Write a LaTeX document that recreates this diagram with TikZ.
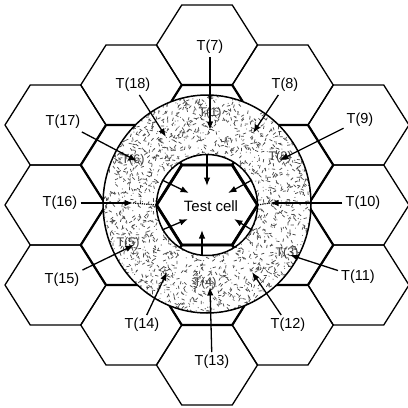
\documentclass[tikz,border=0pt]{standalone}
\usepackage{fontspec}
\setmainfont{Liberation Sans}
\usetikzlibrary{arrows.meta}
\newcommand{\hexcell}[2]{\draw[#1,shift={#2}] (50.5,0) -- (25.25,40) -- (-25.25,40) -- (-50.5,0) -- (-25.25,-40) -- (25.25,-40) -- cycle;}
\tikzset{
  hexthin/.style={line width=1.3pt, line join=round},
  hexthick/.style={line width=2.2pt, line join=round},
  testhex/.style={line width=2.8pt, line join=round},
  lbl/.style={font=\fontsize{14.5}{16}\selectfont, inner sep=3pt},
  innerlbl/.style={font=\fontsize{12.5}{14}\selectfont, inner sep=1pt, text=black!75},
  arr/.style={line width=1.3pt, -{Latex[length=8.5pt,width=6.5pt]}},
  ringline/.style={line width=1.5pt}
}
\begin{document}
\begin{tikzpicture}[x=1pt,y=-1pt]
\useasboundingbox (0,0) rectangle (408,408);
\fill[white] (0,0) rectangle (408,408);
% ring 2 cells
\hexcell{hexthin}{(207,45)}
\hexcell{hexthin}{(282.75,85)}
\hexcell{hexthin}{(358.5,125)}
\hexcell{hexthin}{(358.5,205)}
\hexcell{hexthin}{(358.5,285)}
\hexcell{hexthin}{(282.75,325)}
\hexcell{hexthin}{(207,365)}
\hexcell{hexthin}{(131.25,325)}
\hexcell{hexthin}{(55.5,285)}
\hexcell{hexthin}{(55.5,205)}
\hexcell{hexthin}{(55.5,125)}
\hexcell{hexthin}{(131.25,85)}
% ring 1 cells
\hexcell{hexthick}{(207,125)}
\hexcell{hexthick}{(282.75,165)}
\hexcell{hexthick}{(282.75,245)}
\hexcell{hexthick}{(207,285)}
\hexcell{hexthick}{(131.25,245)}
\hexcell{hexthick}{(131.25,165)}
% shaded annulus
\fill[white, even odd rule] (207,204) ellipse [x radius=104, y radius=109] (207,205) circle [radius=50.5];
\begin{scope}[even odd rule]
\clip (207,204) ellipse [x radius=104, y radius=109] (207,205) circle [radius=50.5];
\pgfmathsetseed{12345}
\foreach \i in {1,...,2000}{
  \pgfmathsetmacro{\px}{207+106*rand}
  \pgfmathsetmacro{\py}{204+111*rand}
  \pgfmathsetmacro{\pa}{180*rnd}
  \draw[line width=0.75pt, black!70] ([shift={(\pa:1.6)}]\px,\py) -- ([shift={(\pa+180:1.6)}]\px,\py);
}
\foreach \i in {1,...,900}{
  \pgfmathsetmacro{\px}{207+106*rand}
  \pgfmathsetmacro{\py}{204+111*rand}
  \fill[black!65] (\px,\py) circle [radius=0.55];
}
\end{scope}
\draw[ringline] (207,204) ellipse [x radius=104, y radius=109];
\draw[ringline] (207,205) circle [radius=50.5];
% test cell
\hexcell{testhex}{(207,205)}
\node[font=\fontsize{15}{17}\selectfont] (tc) at (211,206) {Test cell};
\coordinate (vl) at (156.5,205);
\coordinate (vr) at (257.5,205);
% ring 1 labels
\node[innerlbl] (t1) at (210,113) {T(1)};
\node[innerlbl] (t2) at (280,157) {T(2)};
\node[innerlbl] (t3) at (287,253) {T(3)};
\node[innerlbl] (t4) at (205,283) {T(4)};
\node[innerlbl] (t5) at (128,243) {T(5)};
\node[innerlbl] (t6) at (133,160) {T(6)};
% ring 2 labels
\node[lbl] (t7) at (210,47) {T(7)};
\node[lbl] (t8) at (285,85) {T(8)};
\node[lbl] (t9) at (360,120) {T(9)};
\node[lbl] (t10) at (363,203) {T(10)};
\node[lbl] (t11) at (358,277) {T(11)};
\node[lbl] (t12) at (288,325) {T(12)};
\node[lbl] (t13) at (212,362) {T(13)};
\node[lbl] (t14) at (142,325) {T(14)};
\node[lbl] (t15) at (62,280) {T(15)};
\node[lbl] (t16) at (60,203) {T(16)};
\node[lbl] (t17) at (63,122) {T(17)};
\node[lbl] (t18) at (133,85) {T(18)};
% arrow tips
\coordinate (a7) at (210,130);
\coordinate (a8) at (253,133);
\coordinate (a9) at (280,160);
\coordinate (a10) at (270,203);
\coordinate (a11) at (290,255);
\coordinate (a12) at (252,272);
\coordinate (a13) at (210,287);
\coordinate (a14) at (167,272);
\coordinate (a15) at (134,245);
\coordinate (a16) at (133,203);
\coordinate (a17) at (137,161);
\coordinate (a18) at (166,137);
\draw[arr] (t7) -- (a7);
\draw[arr] (t8) -- (a8);
\draw[arr] (t9) -- (a9);
\draw[arr] (t10) -- (a10);
\draw[arr] (t11) -- (a11);
\draw[arr] (t12) -- (a12);
\draw[arr] (t13) -- (a13);
\draw[arr] (t14) -- (a14);
\draw[arr] (t15) -- (a15);
\draw[arr] (t16) -- (a16);
\draw[arr] (t17) -- (a17);
\draw[arr] (t18) -- (a18);
\draw[line width=1.2pt, densely dotted] (a16) -- (vl);
\draw[line width=1.2pt, densely dotted] (a10) -- (vr);
% inner arrows
\coordinate (i1) at (207,154.5);
\coordinate (j1) at (207,186);
\coordinate (i2) at (252,180);
\coordinate (j2) at (228,193);
\coordinate (i3) at (252,230);
\coordinate (j3) at (234,219);
\coordinate (i4) at (202,255.5);
\coordinate (j4) at (202,230);
\coordinate (i5) at (162,230);
\coordinate (j5) at (188,219);
\coordinate (i6) at (162,180);
\coordinate (j6) at (189,193);
\draw[arr] (i1) -- (j1);
\draw[arr] (i2) -- (j2);
\draw[arr] (i3) -- (j3);
\draw[arr] (i4) -- (j4);
\draw[arr] (i5) -- (j5);
\draw[arr] (i6) -- (j6);
\end{tikzpicture}
\end{document}
